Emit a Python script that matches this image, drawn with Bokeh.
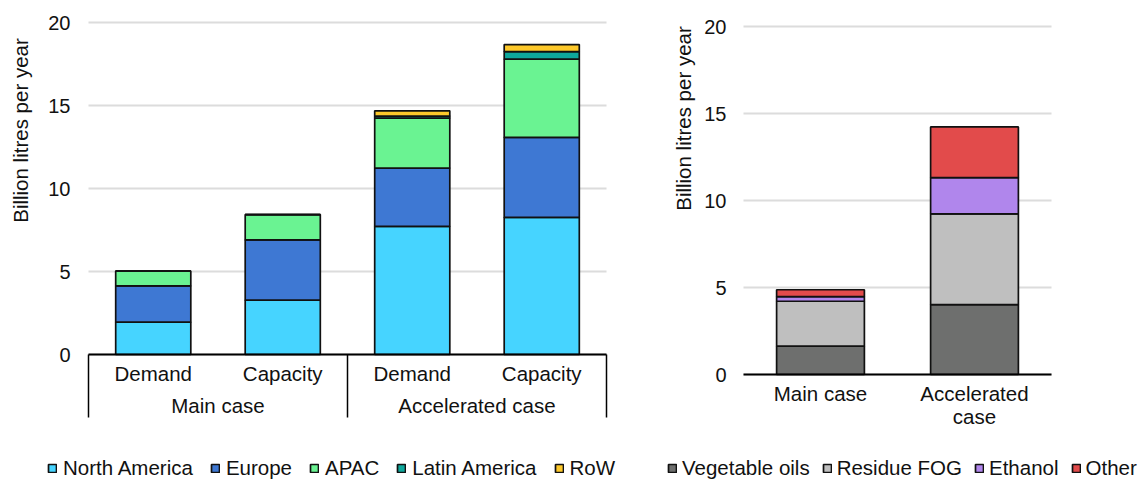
import math
from bokeh.plotting import figure
from bokeh.models import (ColumnDataSource, Range1d, FixedTicker, Label, LinearAxis)
from bokeh.layouts import row
from bokeh.embed import file_html
from bokeh.resources import INLINE

# ---------------- data ----------------
y_ticks = [0, 5, 10, 15, 20]

# left chart: capacity vs demand by region
bar_labels = ["Demand", "Capacity", "Demand", "Capacity"]
group_labels = ["Main case", "Accelerated case"]
regions = ["North America", "Europe", "APAC", "Latin America", "RoW"]
north_america = [1.95, 3.27, 7.72, 8.26]
europe = [2.18, 3.63, 3.51, 4.82]
apac = [0.90, 1.53, 3.01, 4.71]
latin_america = [0.0, 0.0, 0.12, 0.46]
rest_of_world = [0.0, 0.0, 0.32, 0.42]
region_colors = ["#46d4ff", "#3e78d3", "#6af392", "#0ea89c", "#fdc82a"]

# right chart: feedstock
right_cats = ["Main case", "Accelerated\ncase"]
feedstocks = ["Vegetable oils", "Residue FOG", "Ethanol", "Other"]
vegetable_oils = [1.63, 4.02]
residue_fog = [2.58, 5.21]
ethanol = [0.26, 2.09]
other = [0.40, 2.91]
feed_colors = ["#6e6f6e", "#bfbfbf", "#b086ec", "#e24b4b"]

y_title = "Billion litres per year"

# ---------------- style ----------------
FONT = "Liberation Sans"
TICK_FS = "20px"
TXT_FS = "20.5px"
TXT_COLOR = "#111111"
GRID_COLOR = "#dcdcdc"
EDGE = "#111111"
EDGE_W = 1.7


def make_fig(width, height, xr, yr):
    p = figure(width=width, height=height, x_range=Range1d(*xr), y_range=Range1d(*yr),
               output_backend="svg", toolbar_location=None, x_axis_location=None,
               min_border=0)
    p.outline_line_color = None
    p.background_fill_color = "white"
    p.border_fill_color = "white"
    p.xgrid.visible = False
    p.ygrid.visible = False
    ax = p.yaxis[0]
    ax.fixed_location = 0
    ax.ticker = FixedTicker(ticks=y_ticks)
    ax.axis_line_color = None
    ax.major_tick_line_color = None
    ax.minor_tick_line_color = None
    ax.major_tick_out = 0
    ax.major_tick_in = 0
    ax.major_label_text_font = FONT
    ax.major_label_text_font_size = TICK_FS
    ax.major_label_text_color = TXT_COLOR
    return p


def gridlines(p, n_cats):
    p.segment(x0=[0] * len(y_ticks), y0=y_ticks, x1=[n_cats] * len(y_ticks), y1=y_ticks,
              line_color=GRID_COLOR, line_width=2)


def cat_axis(p, ticks, labels, standoff, line=False, n_cats=None):
    ax = LinearAxis(fixed_location=0, ticker=FixedTicker(ticks=ticks),
                    major_label_overrides={t: l for t, l in zip(ticks, labels)})
    ax.major_tick_line_color = None
    ax.minor_tick_line_color = None
    ax.major_tick_out = 0
    ax.major_tick_in = 0
    ax.major_label_standoff = standoff
    ax.major_label_text_font = FONT
    ax.major_label_text_font_size = TXT_FS
    ax.major_label_text_color = TXT_COLOR
    ax.major_label_text_line_height = 1.0
    if line:
        ax.axis_line_color = "black"
        ax.axis_line_width = 2
        ax.bounds = (0, n_cats)
    else:
        ax.axis_line_color = None
    p.add_layout(ax, "below")
    return ax


def style_legend(p, x, y, spacing, standoff):
    lg = p.legend[0]
    lg.orientation = "horizontal"
    lg.location = (x, y)
    lg.padding = 0
    lg.margin = 0
    lg.spacing = spacing
    lg.label_standoff = standoff
    lg.glyph_width = 10
    lg.glyph_height = 10
    lg.border_line_color = None
    lg.background_fill_alpha = 0
    lg.label_text_font = FONT
    lg.label_text_font_size = TXT_FS
    lg.label_text_color = TXT_COLOR


# ---------------- left figure ----------------
# frame covers the whole canvas: x=0 at px 88, x=4 at px 606; y=0 at px 354, y=20 at px 22
LW, LH = 640, 479
lx_px = (606 - 88) / 4.0
ly_px = (354 - 22) / 20.0
p1 = make_fig(LW, LH, (-88 / lx_px, 4 + (LW - 606) / lx_px),
              (-(LH - 354) / ly_px, 20 + 22 / ly_px))
p1.yaxis[0].major_label_standoff = 18
n1 = len(bar_labels)
gridlines(p1, n1)

x_left = [i + 0.5 for i in range(n1)]
src1 = ColumnDataSource(dict(x=x_left, north_america=north_america, europe=europe,
                             apac=apac, latin_america=latin_america,
                             rest_of_world=rest_of_world))
keys1 = ["north_america", "europe", "apac", "latin_america", "rest_of_world"]
p1.vbar_stack(keys1, x="x", width=0.58, source=src1, fill_color=region_colors,
              line_color=EDGE, line_width=EDGE_W, legend_label=regions)

# two-level category axis with group separators
cat_axis(p1, x_left, bar_labels, 7, line=True, n_cats=n1)
cat_axis(p1, [1, 3], group_labels, 39)
sep = LinearAxis(fixed_location=0, ticker=FixedTicker(ticks=[0, 2, 4]))
sep.axis_line_color = None
sep.minor_tick_line_color = None
sep.major_tick_in = 0
sep.major_tick_out = 63
sep.major_tick_line_color = "black"
sep.major_tick_line_width = 1.5
sep.major_label_text_color = None
p1.add_layout(sep, "below")

p1.add_layout(Label(x=(20 - 88) / lx_px, y=(354 - 130) / ly_px, text=y_title,
                    angle=math.pi / 2, text_align="center", text_baseline="middle",
                    text_font=FONT, text_font_size=TXT_FS, text_color=TXT_COLOR))
style_legend(p1, 47, -1, 17, 6)

# ---------------- right figure ----------------
# x=0 at px 743-640=103, x=2 at px 1051-640=411; y=0 at px 374, y=20 at px 26
RW, RH = 500, 479
rx_px = (411 - 103) / 2.0
ry_px = (374 - 26) / 20.0
p2 = make_fig(RW, RH, (-103 / rx_px, 2 + (RW - 411) / rx_px),
              (-(RH - 374) / ry_px, 20 + 26 / ry_px))
p2.yaxis[0].major_label_standoff = 17
n2 = len(right_cats)
gridlines(p2, n2)

x_right = [i + 0.5 for i in range(n2)]
src2 = ColumnDataSource(dict(x=x_right, vegetable_oils=vegetable_oils,
                             residue_fog=residue_fog, ethanol=ethanol, other=other))
keys2 = ["vegetable_oils", "residue_fog", "ethanol", "other"]
p2.vbar_stack(keys2, x="x", width=0.57, source=src2, fill_color=feed_colors,
              line_color=EDGE, line_width=EDGE_W, legend_label=feedstocks)

cat_axis(p2, x_right, right_cats, 7, line=True, n_cats=n2)

p2.add_layout(Label(x=(683 - 743) / rx_px, y=(374 - 118) / ry_px, text=y_title,
                    angle=math.pi / 2, text_align="center", text_baseline="middle",
                    text_font=FONT, text_font_size=TXT_FS, text_color=TXT_COLOR))
style_legend(p2, 27, -1, 12, 5)

layout = row(p1, p2)
open("out.html", "w").write(file_html(layout, INLINE))
